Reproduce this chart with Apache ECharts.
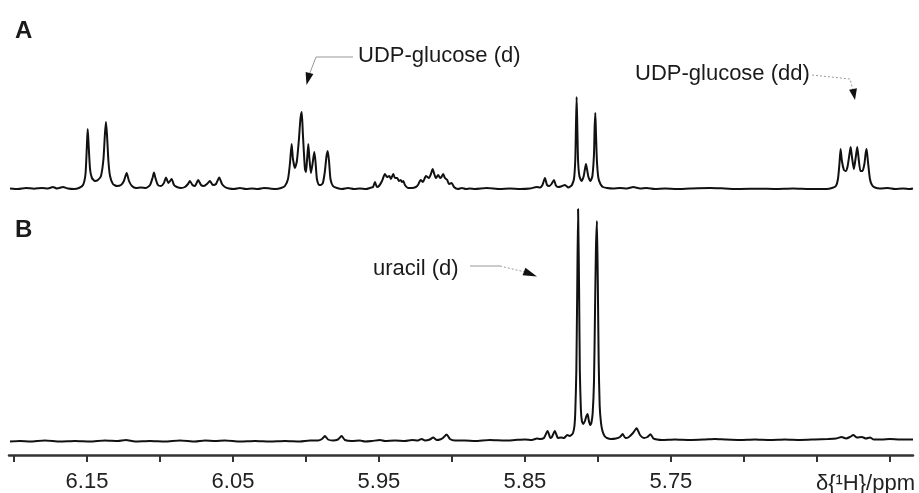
<!DOCTYPE html>
<html><head><meta charset="utf-8">
<script src="https://cdn.jsdelivr.net/npm/echarts@6/dist/echarts.min.js"></script>
<style>html,body{margin:0;padding:0;background:#fff}#c{width:919px;height:493px}</style>
</head><body><div id="c"></div><script>
// Trace A: chemical shift (ppm) and intensity (a.u.)
const ppmA = [6.2027,6.1973,6.1918,6.1863,6.1808,6.1767,6.1733,6.1705,6.1664,6.1630,6.1589,6.1555,6.1527,6.1510,6.1500,6.1495,6.1490,6.1479,6.1466,6.1445,6.1425,6.1404,6.1387,6.1377,6.1370,6.1363,6.1353,6.1342,6.1322,6.1295,6.1267,6.1247,6.1228,6.1212,6.1192,6.1164,6.1130,6.1096,6.1068,6.1051,6.1041,6.1031,6.1014,6.0993,6.0973,6.0959,6.0942,6.0920,6.0904,6.0884,6.0856,6.0829,6.0808,6.0795,6.0777,6.0760,6.0738,6.0719,6.0699,6.0678,6.0658,6.0637,6.0616,6.0594,6.0575,6.0555,6.0527,6.0493,6.0452,6.0411,6.0370,6.0329,6.0288,6.0247,6.0205,6.0171,6.0144,6.0123,6.0110,6.0098,6.0089,6.0075,6.0062,6.0048,6.0038,6.0029,6.0021,6.0007,6.0000,5.9993,5.9984,5.9976,5.9966,5.9955,5.9943,5.9935,5.9925,5.9911,5.9897,5.9884,5.9870,5.9860,5.9851,5.9842,5.9832,5.9815,5.9788,5.9753,5.9712,5.9671,5.9630,5.9589,5.9562,5.9541,5.9527,5.9514,5.9500,5.9479,5.9459,5.9445,5.9429,5.9418,5.9402,5.9390,5.9375,5.9363,5.9351,5.9342,5.9333,5.9322,5.9299,5.9274,5.9247,5.9233,5.9214,5.9199,5.9178,5.9158,5.9144,5.9132,5.9123,5.9110,5.9094,5.9082,5.9072,5.9060,5.9048,5.9032,5.9021,5.9002,5.8986,5.8959,5.8932,5.8904,5.8877,5.8842,5.8762,5.8671,5.8603,5.8534,5.8466,5.8420,5.8397,5.8380,5.8363,5.8349,5.8333,5.8318,5.8301,5.8288,5.8272,5.8253,5.8226,5.8203,5.8185,5.8178,5.8164,5.8155,5.8151,5.8146,5.8141,5.8136,5.8127,5.8113,5.8099,5.8089,5.8082,5.8075,5.8065,5.8051,5.8038,5.8027,5.8023,5.8018,5.8014,5.8007,5.7997,5.7983,5.7966,5.7938,5.7897,5.7849,5.7801,5.7758,5.7712,5.7667,5.7610,5.7541,5.7461,5.7370,5.7233,5.7130,5.7027,5.6890,5.6788,5.6664,5.6548,5.6434,5.6397,5.6370,5.6356,5.6346,5.6338,5.6329,5.6315,5.6303,5.6291,5.6277,5.6269,5.6260,5.6247,5.6234,5.6224,5.6214,5.6202,5.6188,5.6175,5.6166,5.6160,5.6151,5.6137,5.6123,5.6103,5.6068,5.6014,5.5966,5.5911,5.5863,5.5842];
const intensityA = [0.5,0,1,0.3,1,0.5,2,0.5,2,0.5,0,1,4,15,45,60,48,20,11,8,9,13,30,55,67,55,28,13,5,3,4,8,16,8,3,1,1.5,1,4,11,16.5,11,4,3,6,11.5,6,10,4,2,1,2,5,8,4,3,9,4,3,5,8,4,5,11.5,5,2,0.5,0,1,0,0.5,0,1,0.5,0,1,3,10,25,45,30,21,28,50,70,77,55,20,17,28,45,30,16,25,37,28,10,4,4,6,18,32,38,28,10,3,1,0,1,0,0.5,0,1,2,7,2,3,8,15,12,13,10,15,11,11,8,9,7,8,4,1,1,2,4,9,7,13,11,15,20,16,11,14,11,12,15,11,9,5,6,2,0,1,0,0.5,0,1,0,0.5,0,0.5,2,1.5,4,11,4,3,5,9,3.5,2,2.5,4,1.5,3,4,10,30,60,92,60,28,13,8,12,20,25,20,12,8,13,35,60,76,58,28,11,5,2,1,0.5,1,0.5,2,0.5,1,0,0.5,0,0.5,1,0.5,0,0.3,0,0.5,0,0,1,3,10,25,40,28,19,18,22,35,42,32,20,32,42,30,18,18,25,36,40,28,10,4,1.5,0.5,1,0,0.5,0,0.5];

// Trace B: chemical shift (ppm) and intensity (a.u.)
const ppmB = [6.2027,6.1959,6.1890,6.1788,6.1685,6.1582,6.1479,6.1377,6.1288,6.1233,6.1171,6.1068,6.0966,6.0863,6.0760,6.0692,6.0623,6.0555,6.0452,6.0349,6.0247,6.0144,6.0041,5.9973,5.9918,5.9890,5.9870,5.9849,5.9815,5.9781,5.9756,5.9733,5.9685,5.9630,5.9596,5.9548,5.9493,5.9459,5.9390,5.9322,5.9274,5.9233,5.9208,5.9185,5.9151,5.9129,5.9103,5.9082,5.9062,5.9036,5.9014,5.8979,5.8911,5.8842,5.8740,5.8637,5.8568,5.8500,5.8452,5.8418,5.8397,5.8370,5.8345,5.8325,5.8315,5.8295,5.8274,5.8253,5.8233,5.8210,5.8195,5.8182,5.8171,5.8161,5.8155,5.8148,5.8142,5.8136,5.8129,5.8124,5.8117,5.8110,5.8101,5.8089,5.8079,5.8071,5.8062,5.8053,5.8045,5.8036,5.8027,5.8020,5.8014,5.8007,5.8001,5.7995,5.7988,5.7979,5.7969,5.7955,5.7938,5.7911,5.7877,5.7849,5.7831,5.7812,5.7788,5.7760,5.7735,5.7712,5.7685,5.7661,5.7640,5.7620,5.7596,5.7562,5.7473,5.7370,5.7267,5.7199,5.7130,5.7027,5.6925,5.6822,5.6719,5.6616,5.6514,5.6425,5.6370,5.6331,5.6301,5.6274,5.6251,5.6226,5.6192,5.6164,5.6137,5.6110,5.6055,5.6000,5.5932,5.5842];
const intensityB = [-0.5,0,-0.5,0.5,-0.5,0,-0.5,0.5,0,1,-0.5,0,-0.5,0.5,-0.5,0.5,0,0.5,-0.5,0,-0.5,0,-0.5,0.5,0.5,2,5,1.5,0.5,1.5,5,1,0,0.5,-0.5,0,1,0,0.5,0,1,0.5,2,0.5,1.5,3.5,1,1.5,3,6.5,2,0.5,0.5,0,1,0.5,1,1.5,1,2.5,2,3,10,3,4,10,3,3.5,3,6,5,6,8,15,30,70,150,232,150,70,32,20,17,20,25,27,20,16,18,28,60,130,190,220,160,80,35,18,10,5,3,2,2.5,4,7,3,4,8,12.7,6,3,4,6.7,2.5,1.5,1,1.5,1,1.5,2,1.5,1,1.5,1,1.5,1,1.5,2,2.5,4,2.5,4,6,3.5,4,2.5,3.5,1.5,1.5,2,1.5,1.5];

const tickValues = [6.20,6.15,6.10,6.05,6.00,5.95,5.90,5.85,5.80,5.75,5.70,5.65,5.60];
const labelValues = [6.15,6.05,5.95,5.85,5.75];
const axisTitle = 'δ{¹H}/ppm';
const panelLabels = ['A','B'];
const annotationTexts = ['UDP-glucose (d)','UDP-glucose (dd)','uracil (d)'];

const FONT = '"Liberation Sans", Arial, Helvetica, sans-serif';
const X_MIN = 5.5842, X_MAX = 6.2034;

const chart = echarts.init(document.getElementById('c'), null, {renderer:'canvas'});

function arrowHead(base, tip, halfW){
  const dx = tip[0]-base[0], dy = tip[1]-base[1];
  const L = Math.sqrt(dx*dx+dy*dy);
  const nx = -dy/L, ny = dx/L;
  return {type:'polygon', shape:{points:[tip,[base[0]+nx*halfW, base[1]+ny*halfW],[base[0]-nx*halfW, base[1]-ny*halfW]]}, style:{fill:'#111'}, z:10};
}
function txt(x,y,t,size,bold){
  return {type:'text', x:x, y:y, style:{text:t, font:(bold?'bold ':'')+size+'px '+FONT, fill:'#1a1a1a', textVerticalAlign:'middle', textAlign:'left'}, z:10};
}

const graphics = [
  txt(15,31,panelLabels[0],24,true),
  txt(15,230,panelLabels[1],24,true),
  txt(358,56,annotationTexts[0],22,false),
  txt(635,73.5,annotationTexts[1],22,false),
  txt(373,269,annotationTexts[2],22,false),
  {type:'text', x:915, y:484, style:{text:axisTitle, font:'22px '+FONT, fill:'#222', textAlign:'right', textVerticalAlign:'middle'}},
  // UDP-glucose (d) leader
  {type:'polyline', shape:{points:[[353,57],[316,57],[309.5,74]]}, style:{stroke:'#999', lineWidth:1, fill:null}},
  arrowHead([309.5,73],[306.5,85],4),
  // UDP-glucose (dd) leader
  {type:'polyline', shape:{points:[[812,75],[850,79],[853,90]]}, style:{stroke:'#999', lineWidth:1, lineDash:[2,2], fill:null}},
  arrowHead([853,89],[855,100],4),
  // uracil (d) leader
  {type:'polyline', shape:{points:[[470,266],[500,266]]}, style:{stroke:'#999', lineWidth:1, fill:null}},
  {type:'polyline', shape:{points:[[500,266],[525,272]]}, style:{stroke:'#999', lineWidth:1, lineDash:[2,2], fill:null}},
  arrowHead([524,271.5],[537,276.5],4)
];

const option = {
  animation:false,
  backgroundColor:'#ffffff',
  grid:[
    {left:9, right:6, top:10, height:190, containLabel:false, outerBoundsMode:'none'},
    {left:9, right:6, top:200, height:255, containLabel:false, outerBoundsMode:'none'}
  ],
  xAxis:[
    {gridIndex:0, type:'value', min:X_MIN, max:X_MAX, inverse:true, show:false},
    {gridIndex:1, type:'value', min:X_MIN, max:X_MAX, inverse:true,
     axisLine:{show:true, onZero:false, lineStyle:{color:'#333', width:2.5}},
     axisTick:{show:true, customValues:tickValues, length:7, lineStyle:{color:'#333', width:2}},
     axisLabel:{show:true, customValues:labelValues, formatter:v=>Number(v).toFixed(2), fontSize:22, fontFamily:FONT, color:'#222', margin:16},
     splitLine:{show:false}}
  ],
  yAxis:[
    {gridIndex:0, type:'value', min:-11, max:179, show:false, splitLine:{show:false}},
    {gridIndex:1, type:'value', min:-14, max:241, show:false, splitLine:{show:false}}
  ],
  series:[
    {type:'line', xAxisIndex:0, yAxisIndex:0, data:ppmA.map((p,i)=>[p,intensityA[i]]), showSymbol:false, symbol:'none', lineStyle:{color:'#111', width:2}, smooth:0.2},
    {type:'line', xAxisIndex:1, yAxisIndex:1, data:ppmB.map((p,i)=>[p,intensityB[i]]), showSymbol:false, symbol:'none', lineStyle:{color:'#111', width:2}, smooth:0.2}
  ],
  graphic:graphics
};
chart.setOption(option);
</script></body></html>
